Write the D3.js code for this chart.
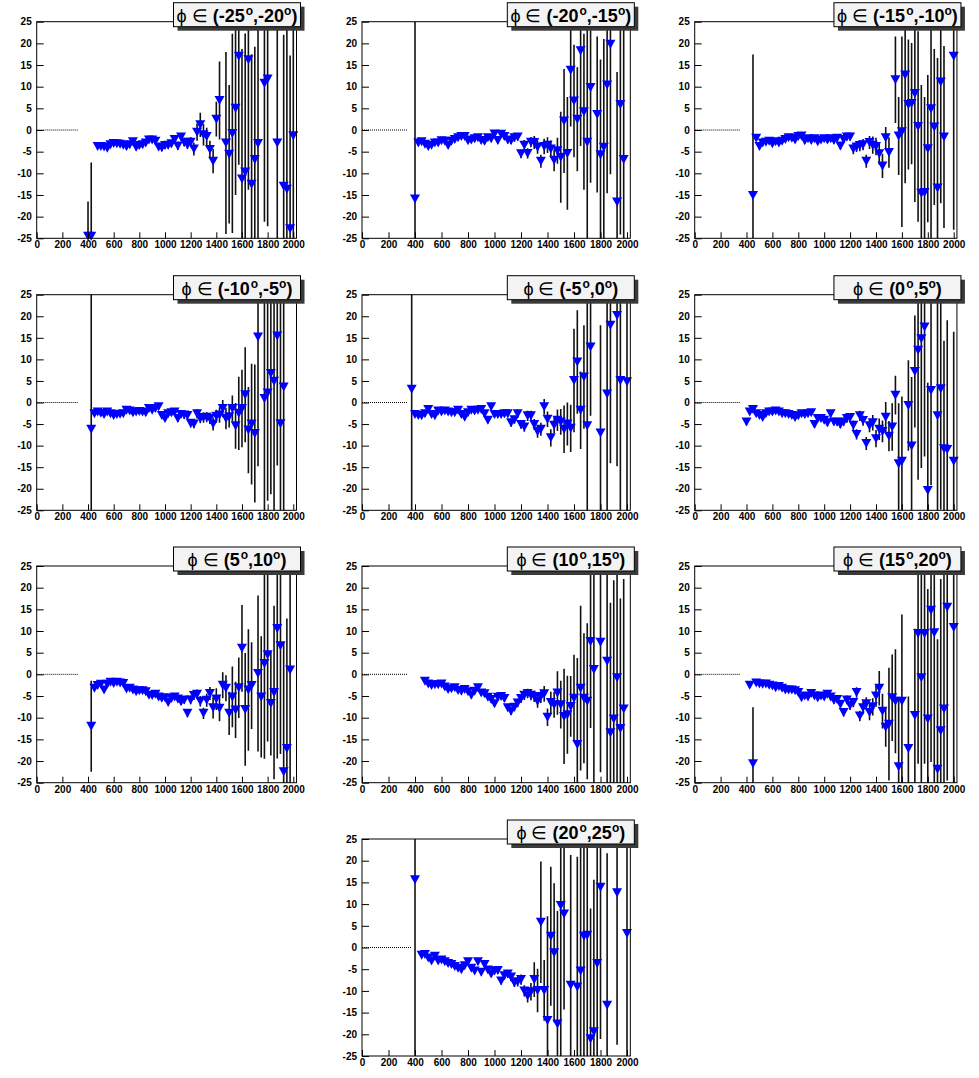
<!DOCTYPE html>
<html>
<head>
<meta charset="utf-8">
<script src="https://cdn.jsdelivr.net/npm/d3@7"></script>
<style>
  body { margin: 0; background: #fff; }
  svg { display: block; }
</style>
</head>
<body>
<svg id="chart" width="979" height="1078"></svg>
<script>
// Bin centres shared by all azimuthal slices
const binCenters = [
  375, 400, 425, 450, 475, 500, 525, 550, 575, 600,
  625, 650, 675, 700, 725, 750, 775, 800, 825, 850,
  875, 900, 925, 950, 975, 1000, 1025, 1050, 1075, 1100,
  1125, 1150, 1175, 1200, 1225, 1250, 1275, 1300, 1325, 1350,
  1375, 1400, 1425, 1450, 1475, 1500, 1525, 1550, 1575, 1600,
  1625, 1650, 1675, 1700, 1725, 1750, 1775, 1800, 1825, 1850,
  1875, 1900, 1925, 1950, 1975, 2000
];

// Azimuthal slice boundaries (degrees)
const phiLow  = [-25, -20, -15, -10, -5, 0, 5, 10, 15, 20];
const phiHigh = [-20, -15, -10, -5, 0, 5, 10, 15, 20, 25];

// End of the dotted zero reference line in each slice
const zeroLineEnd = [325, 345, 352, 325, 344, 352, 325, 345, 352, 376];

// Axis ticks
const xTicks = [0, 200, 400, 600, 800, 1000, 1200, 1400, 1600, 1800, 2000];
const yTicks = [-25, -20, -15, -10, -5, 0, 5, 10, 15, 20, 25];

// phi in (-25,-20)
const valuesM25 = [
  null, -24.5, -24.5, null, -3.8, -3.8, -3.9, -4.2, -3.4, -3.1,
  -3.2, -3.3, -3.5, -3.8, -3.4, -2.7, -4.0, -3.6, -3.4, -3.0,
  -2.3, -2.3, -2.6, -3.9, -4.1, -3.6, -3.5, -3.2, -2.2, -3.7,
  -1.6, -2.8, -3.4, -2.8, -4.4, -0.5, 1.2, -1.1, -1.5, -4.5,
  -7.2, 2.5, 6.8, null, -3.0, -5.6, -0.8, 5.0, 17.0, -11.3,
  -9.7, 16.2, -12.5, -6.8, -3.1, null, 10.8, 11.8, null, null,
  -3.0, null, -13.0, -13.7, -22.8, -1.3
];
const errorsM25 = [
  null, 8, 17, null, 0.6, 0.6, 0.6, 0.6, 0.6, 0.6,
  0.6, 0.6, 0.6, 0.7, 0.7, 0.7, 0.7, 0.7, 0.7, 0.7,
  0.7, 0.7, 0.7, 0.8, 0.8, 0.8, 0.8, 0.8, 0.9, 0.9,
  0.9, 1.0, 1.0, 1.2, 1.5, 2.0, 2.8, 2.5, 2.0, 2.0,
  2.8, 4, 9, null, 21, 16, 23, 20, 25, 30,
  32, 30, 30, 26, 30, null, 32, 34, null, null,
  40, null, 35, 40, 40, 40
];

// phi in (-20,-15)
const valuesM20 = [
  null, -15.9, -3.0, -2.7, -3.3, -3.8, -3.5, -3.0, -3.0, -2.5,
  -2.6, -3.6, -2.6, -2.2, -1.8, -1.5, -1.5, -2.5, -2.3, -2.0,
  -1.8, -2.4, -2.6, -1.8, -2.0, -0.9, -2.4, -1.0, -1.5, -2.3,
  -2.4, -1.8, -1.6, -5.5, -3.5, -5.4, -2.8, -2.9, -4.0, -7.2,
  -3.8, -3.5, -4.4, -7.0, -4.8, -6.3, 2.1, -5.4, 13.8, 6.7,
  2.5, 18.3, 4.2, -2.8, 9.8, null, 3.6, -5.7, -4.0, 10.4,
  19.8, null, -16.6, 5.9, -6.8, null
];
const errorsM20 = [
  null, 42, 0.5, 0.5, 0.5, 0.5, 0.5, 0.5, 0.5, 0.5,
  0.6, 0.6, 0.6, 0.6, 0.6, 0.6, 0.6, 0.6, 0.6, 0.7,
  0.7, 0.7, 0.7, 0.7, 0.7, 0.8, 0.8, 0.8, 0.8, 0.8,
  0.9, 0.9, 0.9, 1.0, 1.2, 1.2, 1.2, 1.5, 1.5, 1.5,
  1.8, 1.8, 2.0, 2.5, 3.0, 10.5, 12, 13, 13, 13,
  12, 22, 18, 28, 22, null, 18, 22, 25, 25,
  30, null, 30, 30, 30, null
];

// phi in (-15,-10)
const valuesM15 = [
  null, null, null, -15.1, -1.9, -3.8, -3.0, -2.8, -2.6, -3.2,
  -2.7, -3.0, -2.6, -2.2, -1.8, -1.9, -2.3, -1.5, -1.4, -2.5,
  -2.0, -2.4, -2.0, -2.7, -2.3, -2.0, -2.3, -2.0, -2.4, -1.9,
  -3.7, -2.2, -1.6, -1.6, -4.4, -3.9, -3.6, -3.4, -7.2, -2.9,
  -3.5, -3.8, -5.5, -8.3, -1.8, -5.2, null, 11.6, -1.4, -0.4,
  12.7, 5.9, 6.1, 8.4, 0.8, -14.6, -14.4, -4.3, 4.9, 0.7,
  -13.4, 11.1, -1.6, null, null, 17.0
];
const errorsM15 = [
  null, null, null, 32.5, 0.5, 0.5, 0.5, 0.5, 0.5, 0.5,
  0.5, 0.5, 0.5, 0.5, 0.5, 0.6, 0.6, 0.6, 0.6, 0.6,
  0.6, 0.6, 0.6, 0.6, 0.7, 0.7, 0.7, 0.7, 0.7, 0.7,
  0.8, 0.8, 0.8, 0.8, 1.2, 1.2, 1.3, 1.3, 1.5, 1.5,
  2.0, 2.0, 2.5, 2.8, 2.5, 3.5, null, 10, 9, 22,
  25, 15, 14, 25, 22, 25, 22, 17, 30, 18,
  30, 28, 21, null, null, 40
];

// phi in (-10,-5)
const valuesM10 = [
  null, null, -6.2, -2.6, -2.2, -2.5, -2.8, -2.2, -2.6, -3.0,
  -2.8, -2.7, -2.6, -1.8, -2.0, -2.4, -2.2, -2.1, -2.2, -2.4,
  -1.4, -1.8, -1.4, -1.0, -3.0, -3.7, -2.6, -2.4, -2.2, -3.7,
  -2.8, -2.9, -3.0, -4.8, -5.0, -2.6, -3.7, -3.5, -3.4, -3.7,
  -5.0, -3.2, -2.9, -1.4, -3.7, -3.3, -1.4, -5.4, -2.5, -1.4,
  1.8, -6.4, -5.0, -7.2, 15.2, null, 0.9, 2.2, 6.7, 4.9,
  15.4, -4.9, 3.6, null, null, null
];
const errorsM10 = [
  null, null, 33, 0.5, 0.5, 0.5, 0.5, 0.5, 0.5, 0.5,
  0.5, 0.5, 0.5, 0.5, 0.6, 0.6, 0.6, 0.6, 0.6, 0.6,
  0.6, 0.6, 0.6, 0.7, 0.7, 0.7, 0.7, 0.7, 0.8, 0.8,
  0.8, 0.9, 0.9, 1.0, 1.0, 1.1, 1.1, 1.2, 1.2, 1.3,
  1.5, 1.5, 1.8, 2.0, 2.5, 2.5, 3.0, 5.3, 8.5, 9,
  11, 10, 14, 16, 30, null, 28, 25, 28, 30,
  30, 30, 30, null, null, null
];

// phi in (-5,0)
const valuesM5 = [
  3.1, -2.8, -3.0, -3.1, -2.6, -1.6, -2.8, -3.1, -2.0, -2.2,
  -2.0, -2.2, -2.4, -2.4, -1.8, -2.8, -3.4, -2.4, -1.8, -2.0,
  -1.8, -1.6, -2.6, -4.1, -1.0, -2.8, -2.8, -2.8, -2.6, -2.6,
  -4.7, -4.0, -2.6, -5.1, -5.7, -3.1, -3.1, -5.1, -6.7, -6.2,
  -1.0, -3.9, -8.2, -5.3, -4.1, -4.5, -6.2, -5.0, -6.0, 5.1,
  9.4, -1.8, 5.9, -5.4, 12.9, null, null, -7.1, null, 2.0,
  17.9, null, 20.2, 5.1, null, 4.8
];
const errorsM5 = [
  30, 0.5, 0.5, 0.5, 0.5, 0.5, 0.5, 0.5, 0.5, 0.5,
  0.5, 0.5, 0.5, 0.5, 0.6, 0.6, 0.6, 0.6, 0.6, 0.6,
  0.6, 0.6, 0.7, 0.7, 0.7, 0.7, 0.7, 0.7, 0.8, 0.8,
  0.9, 0.9, 1.0, 1.0, 1.1, 1.2, 1.2, 1.3, 1.5, 1.5,
  1.8, 1.8, 2.0, 1.8, 2.5, 3.0, 5.5, 5.0, 5.5, 12,
  12, 9, 12, 30, 16, null, null, 25, null, 30,
  32, null, 35, 40, null, 40
];

// phi in (0,5)
const valuesP0 = [
  null, -4.5, -2.2, -1.6, -2.6, -3.0, -3.5, -2.6, -2.2, -2.2,
  -2.0, -2.2, -2.6, -2.6, -2.8, -3.0, -3.5, -3.1, -2.6, -2.8,
  -2.6, -2.4, -5.1, -3.7, -3.7, -4.1, -4.7, -2.6, -4.5, -4.6,
  -5.1, -4.5, -3.7, -3.5, -5.3, -7.4, -3.1, -4.2, -9.5, -5.4,
  -4.7, -8.4, -6.2, -6.7, -3.4, -7.8, -5.7, 1.7, -14.2, -13.6,
  null, -0.7, -10.1, 7.2, 12.1, 14.8, 17.5, -20.4, 2.8, null,
  -3.1, 3.2, -10.7, -10.9, null, -13.6
];
const errorsP0 = [
  null, 0.8, 0.5, 0.5, 0.5, 0.5, 0.5, 0.5, 0.5, 0.5,
  0.5, 0.5, 0.5, 0.5, 0.6, 0.6, 0.6, 0.6, 0.6, 0.6,
  0.6, 0.6, 0.7, 0.7, 0.7, 0.7, 0.8, 0.8, 0.8, 0.8,
  0.9, 0.9, 1.0, 1.0, 1.1, 1.2, 1.2, 1.2, 1.5, 1.5,
  1.8, 2.0, 2.5, 2.5, 3.5, 3.5, 5.5, 4.5, 14, 15,
  null, 10.5, 16, 13, 30, 30, 30, 25, 22, null,
  30, 28, 25, 30, null, 30
];

// phi in (5,10)
const valuesP5 = [
  null, null, -12.0, -3.2, -2.6, -2.3, -3.6, -2.3, -1.8, -2.1,
  -1.8, -2.0, -2.1, -3.4, -3.2, -3.6, -4.0, -3.8, -3.8, -4.0,
  -4.8, -4.9, -4.6, -5.2, -5.5, -5.4, -6.5, -5.6, -5.2, -5.7,
  -6.3, -5.9, -9.0, -5.9, -4.9, -4.6, -6.2, -9.0, -6.0, -4.4,
  -7.7, -5.7, -7.8, -2.5, -3.2, -9.0, -5.2, -8.2, -3.1, 6.0,
  -8.1, -3.6, -2.6, null, 0.2, -5.2, 2.5, 4.5, -6.7, -4.2,
  10.6, 6.6, -22.5, -17.1, 1.0, null
];
const errorsP5 = [
  null, null, 10.5, 0.4, 0.4, 0.4, 0.4, 0.4, 0.4, 0.4,
  0.4, 0.5, 0.5, 0.5, 0.5, 0.5, 0.5, 0.5, 0.5, 0.6,
  0.6, 0.6, 0.6, 0.6, 0.7, 0.7, 0.7, 0.7, 0.8, 0.8,
  0.8, 0.9, 0.9, 1.0, 1.0, 1.1, 1.2, 1.3, 1.5, 1.5,
  2.5, 2.5, 3.0, 3.0, 3.0, 5.0, 7.0, 6.5, 7.0, 10,
  13, 14, 10, null, 18, 14, 22, 20, 12, 20,
  30, 25, 30, 30, 30, null
];

// phi in (10,15)
const valuesP10 = [
  null, null, null, null, -1.6, -2.2, -2.6, -2.4, -2.4, -2.2,
  -2.9, -3.5, -3.3, -3.1, -3.7, -3.9, -3.5, -4.0, -4.8, -3.9,
  -3.1, -4.3, -4.5, -5.3, -5.8, -6.8, -5.3, -5.1, -5.6, -7.7,
  -8.5, -7.6, -6.6, -5.6, -4.8, -4.4, -4.8, -5.1, -6.2, -5.1,
  -4.5, -9.9, -6.5, -7.0, -4.3, -7.0, -9.7, -9.3, -7.4, -5.5,
  -16.2, -3.2, -5.5, -6.2, 7.6, 1.1, null, 7.4, null, 3.0,
  -13.5, -10.3, -0.8, -12.5, -8.0, null
];
const errorsP10 = [
  null, null, null, null, 0.4, 0.4, 0.4, 0.4, 0.4, 0.4,
  0.4, 0.5, 0.5, 0.5, 0.5, 0.5, 0.5, 0.5, 0.6, 0.6,
  0.6, 0.6, 0.6, 0.7, 0.7, 0.7, 0.7, 0.8, 0.8, 0.8,
  0.9, 0.9, 1.0, 1.0, 1.1, 1.1, 1.2, 1.3, 1.5, 1.5,
  1.8, 2.0, 2.5, 3.0, 5.0, 5.5, 11, 9, 7, 10,
  20, 19, 15, 18, 20, 30, null, 30, null, 30,
  30, 32, 30, 30, 30, null
];

// phi in (15,20)
const valuesP15 = [
  null, null, -2.5, -20.6, -2.0, -2.2, -2.3, -2.2, -2.5, -2.7,
  -3.1, -2.8, -3.2, -3.6, -3.6, -3.6, -3.8, -4.2, -5.4, -5.0,
  -5.2, -4.4, -5.0, -5.4, -5.0, -5.2, -4.6, -5.2, -6.0, -5.8,
  -6.9, -8.8, -5.9, -7.2, -6.5, -4.2, -9.6, -7.7, -6.8, -8.8,
  -7.5, -5.0, -3.2, -8.5, -12.2, -11.5, -5.4, -6.2, -21.3, -6.2,
  null, -17.1, null, -9.5, 9.4, -0.8, 9.4, -10.3, 14.8, 9.6,
  -21.9, -13.0, -8.0, 15.5, null, 10.8
];
const errorsP15 = [
  null, null, 0.6, 13, 0.4, 0.4, 0.4, 0.4, 0.4, 0.4,
  0.4, 0.5, 0.5, 0.5, 0.5, 0.5, 0.5, 0.5, 0.6, 0.6,
  0.6, 0.6, 0.6, 0.7, 0.7, 0.7, 0.7, 0.8, 0.8, 0.8,
  0.9, 0.9, 1.0, 1.0, 1.1, 1.2, 1.2, 1.5, 1.5, 1.8,
  2.0, 2.5, 4.0, 4.0, 4.5, 13, 10, 12, 16, 20,
  null, 12, null, 20, 30, 30, 30, 30, 35, 35,
  30, 35, 35, 40, null, 40
];

// phi in (20,25)
const valuesP20 = [
  null, 15.6, null, -1.8, -1.6, -2.4, -3.1, -2.0, -3.1, -2.9,
  -3.3, -3.7, -3.9, -4.4, -4.8, -5.1, -4.2, -3.3, -4.8, -5.4,
  -3.3, -5.7, -3.9, -5.2, -6.1, -5.4, -5.3, -7.7, -6.5, -6.1,
  -6.8, -8.1, -7.9, -7.4, -10.0, -11.2, -10.2, -7.4, -9.9, 5.8,
  -9.9, -16.8, 2.6, -1.2, -17.6, 9.7, 7.7, null, -8.7, null,
  -9.1, -5.4, 2.6, 2.8, -21.0, -19.4, -3.7, 13.9, null, -13.3,
  null, null, 12.6, null, null, 3.2
];
const errorsP20 = [
  null, 42, null, 0.4, 0.4, 0.4, 0.4, 0.4, 0.4, 0.4,
  0.5, 0.5, 0.5, 0.5, 0.5, 0.5, 0.6, 0.6, 0.6, 0.6,
  0.6, 0.7, 0.7, 0.7, 0.7, 0.8, 0.8, 0.8, 0.9, 0.9,
  1.0, 1.0, 1.1, 1.2, 1.3, 1.5, 2.0, 4.0, 5.0, 14,
  7, 24, 16, 16, 26, 35, 22, null, 30, null,
  30, 30, 35, 35, 30, 35, 30, 35, null, 35,
  null, null, 35, null, null, 40
];

const seriesValues = [valuesM25, valuesM20, valuesM15, valuesM10, valuesM5,
                      valuesP0, valuesP5, valuesP10, valuesP15, valuesP20];
const seriesErrors = [errorsM25, errorsM20, errorsM15, errorsM10, errorsM5,
                      errorsP0, errorsP5, errorsP10, errorsP15, errorsP20];

// ---- page layout (pixels) ----
const colLeft  = [36.7, 362, 694.7];      // x = 0
const colRight2000 = [293.3, 627, 953.7]; // x = 2000
const rowTop    = [21.7, 294.7, 566, 839];
const rowBottom = [238.3, 510.3, 782.7, 1056];
const xAxisMax = 2025;
const labelFont = "'Liberation Sans', Arial, Helvetica, sans-serif";

const svg = d3.select("#chart");
svg.append("rect").attr("width", 979).attr("height", 1078).attr("fill", "#fff");

// downward triangle marker
const markerPath = "M-5,-4.5L5,-4.5L0,4.5Z";

seriesValues.forEach((vals, k) => {
  const row = k < 9 ? Math.floor(k / 3) : 3;
  const col = k < 9 ? k % 3 : 1;

  const x = d3.scaleLinear().domain([0, 2000]).range([colLeft[col], colRight2000[col]]);
  const y = d3.scaleLinear().domain([-25, 25]).range([rowBottom[row], rowTop[row]]);
  const left = x(0), right = x(xAxisMax), top = y(25), bottom = y(-25);

  const g = svg.append("g").attr("class", "panel");

  const clipId = "clip" + k;
  g.append("clipPath").attr("id", clipId)
    .append("rect").attr("x", left).attr("y", top)
    .attr("width", right - left).attr("height", bottom - top);

  // dotted zero reference
  g.append("line")
    .attr("x1", x(0)).attr("x2", x(zeroLineEnd[k]))
    .attr("y1", y(0)).attr("y2", y(0))
    .attr("stroke", "#000").attr("stroke-width", 1)
    .attr("stroke-dasharray", "1,1");

  const errs = seriesErrors[k];
  const pts = binCenters.map((xv, i) => ({ x: xv, v: vals[i], e: errs[i] }))
                        .filter(d => d.v !== null);

  // error bars
  g.append("g").attr("clip-path", `url(#${clipId})`)
    .selectAll("line").data(pts.filter(d => d.e)).join("line")
    .attr("x1", d => x(d.x)).attr("x2", d => x(d.x))
    .attr("y1", d => y(d.v - d.e)).attr("y2", d => y(d.v + d.e))
    .attr("stroke", "#111").attr("stroke-width", 1.6);

  // markers
  g.append("g").selectAll("path")
    .data(pts.filter(d => d.v >= -25 && d.v <= 25)).join("path")
    .attr("d", markerPath)
    .attr("transform", d => `translate(${x(d.x)},${y(d.v)})`)
    .attr("fill", "#0000ff");

  // axes: major and minor ticks drawn inward
  const xMinor = d3.range(0, xAxisMax, 40);
  const yMinor = d3.range(-25, 25.01, 1);

  const gx = g.append("g").attr("transform", `translate(0,${bottom})`);
  gx.call(d3.axisBottom(x).tickValues(xMinor).tickSize(-3).tickFormat(""));
  gx.call(d3.axisBottom(x).tickValues(xTicks).tickSize(-6).tickPadding(3)
           .tickFormat(d => String(d)));
  const gy = g.append("g").attr("transform", `translate(${left},0)`);
  gy.call(d3.axisLeft(y).tickValues(yMinor).tickSize(-3.5).tickFormat(""));
  gy.call(d3.axisLeft(y).tickValues(yTicks).tickSize(-7).tickPadding(5)
           .tickFormat(d => String(d)));
  [gx, gy].forEach(a => {
    a.selectAll(".domain").remove();
    a.selectAll(".tick line").attr("stroke", "#000").attr("stroke-width", 1);
    a.selectAll("text").attr("font-family", labelFont)
      .attr("font-weight", "bold").attr("font-size", "10px").attr("fill", "#000");
  });

  // frame
  g.append("rect").attr("x", left).attr("y", top)
    .attr("width", right - left).attr("height", bottom - top)
    .attr("fill", "none").attr("stroke", "#000").attr("stroke-width", 1);

  // title box with shadow
  const bw = 127, bh = 24;
  const bx = right + 4 - bw, by = top - 19;
  g.append("rect").attr("x", bx + 4).attr("y", by + 4)
    .attr("width", bw).attr("height", bh).attr("fill", "#3a3a3a");
  g.append("rect").attr("x", bx).attr("y", by)
    .attr("width", bw).attr("height", bh)
    .attr("fill", "#f3f3f3").attr("stroke", "#000").attr("stroke-width", 1);

  const t = g.append("text")
    .attr("x", bx + bw / 2).attr("y", by + 19)
    .attr("text-anchor", "middle")
    .attr("font-family", labelFont).attr("font-size", "18px")
    .attr("fill", "#000");
  t.append("tspan").attr("font-weight", "normal").text("\u03D5 \u2208 ");
  t.append("tspan").attr("font-weight", "bold").text("(" + phiLow[k]);
  t.append("tspan").attr("font-weight", "bold").attr("font-size", "12px")
    .attr("dx", 1).attr("dy", -7).text("o");
  t.append("tspan").attr("font-weight", "bold").attr("dy", 7).text("," + phiHigh[k]);
  t.append("tspan").attr("font-weight", "bold").attr("font-size", "12px")
    .attr("dy", -7).text("o");
  t.append("tspan").attr("font-weight", "bold").attr("dy", 7).text(")");
});
</script>
</body>
</html>
